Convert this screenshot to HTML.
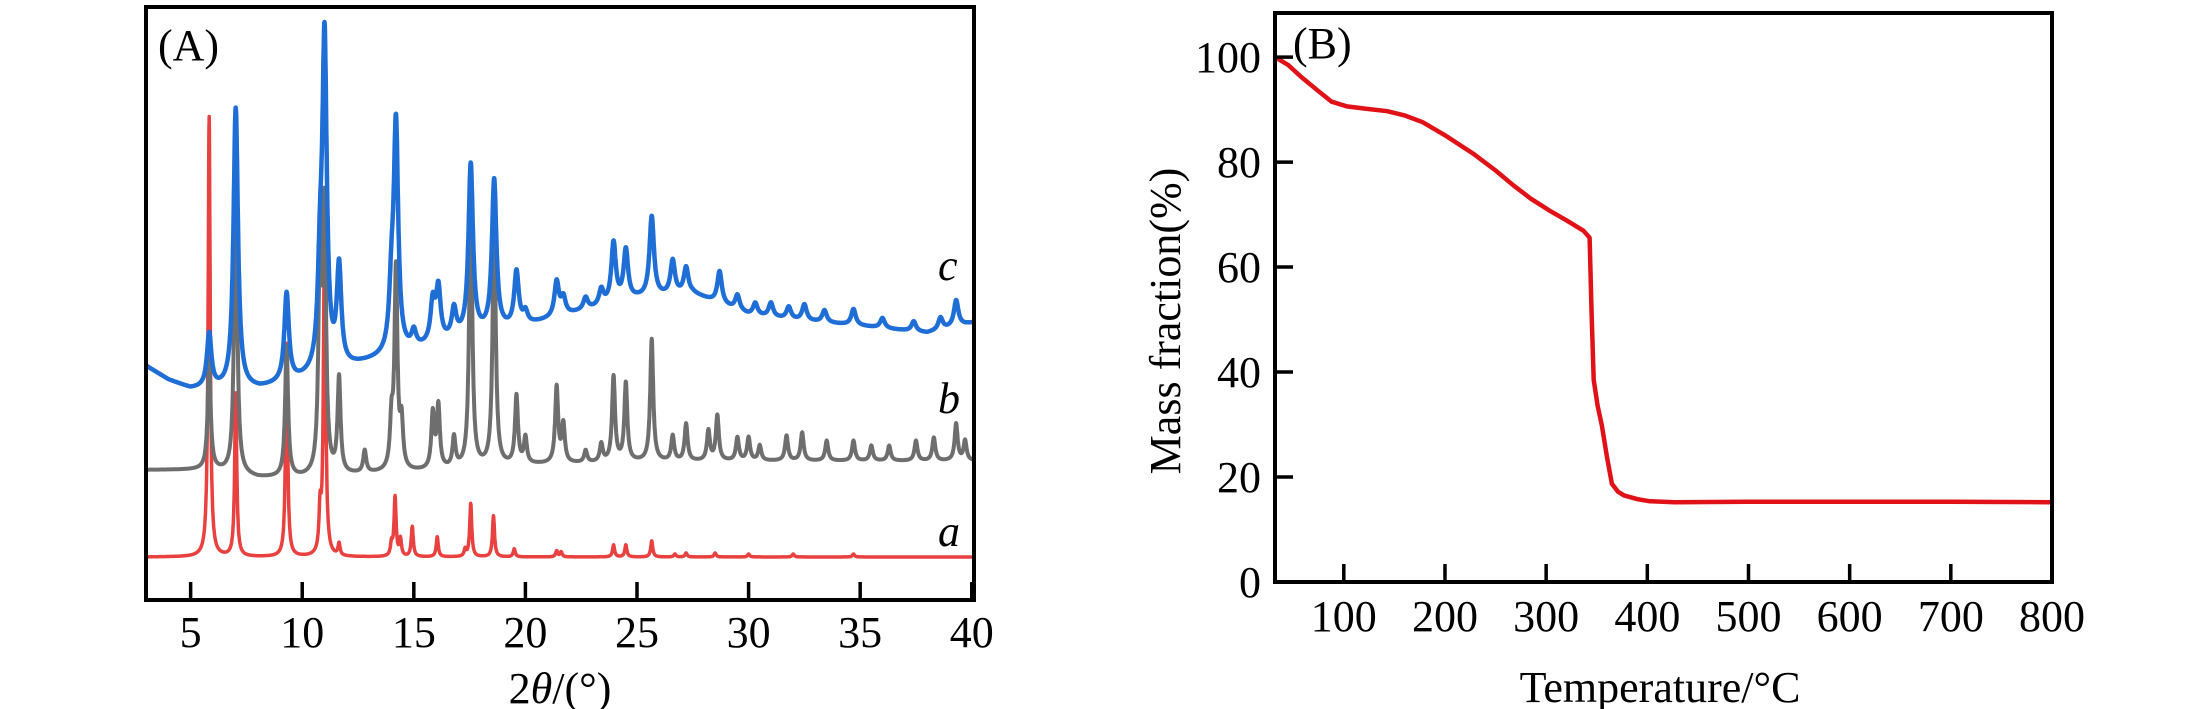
<!DOCTYPE html>
<html><head><meta charset="utf-8"><style>
html,body{margin:0;padding:0;background:#fff;}
svg{display:block;font-family:"Liberation Serif",serif;}
</style></head><body>
<svg id="fig" width="2205" height="709" viewBox="0 0 2205 709" xmlns="http://www.w3.org/2000/svg">
<g id="pa"></g>
<g id="pb"></g>
</svg>
<script>
// ---------- Panel A data (XRD) ----------
const xrdTicks = [5,10,15,20,25,30,35,40];
const redBaseX = [3,40];
const redBaseV = [43,43];
const redPos = [5.83,7.02,9.3,10.8,11.0,11.65,14.0,14.16,14.4,14.93,16.05,17.3,17.55,18.57,19.5,21.4,21.6,23.95,24.5,25.66,26.7,27.2,28.5,30,32,34.7];
const redHt  = [440,163,213,41,347,12,12,59,17,30,20,7,53,41,8,6,5,12,12,16,3,4,4,3,3,3];
const greyBaseX = [3,6,8,10,13,15,20,25,30,40];
const greyBaseV = [130,130,122,122,126,128,135,138,139,139];
const greyPos = [5.83,7.02,9.3,10.8,11.0,11.65,12.8,14.0,14.2,14.45,15.85,16.1,16.8,17.55,18.6,19.6,20.0,21.4,21.7,22.7,23.4,23.95,24.5,25.66,26.6,27.2,28.2,28.6,29.5,30.0,30.5,31.7,32.4,33.5,34.7,35.5,36.3,37.5,38.3,39.3,39.7];
const greyHt  = [108,300,130,230,255,95,22,45,200,45,55,62,30,280,260,68,26,76,38,12,18,85,78,122,25,37,30,45,23,23,15,25,28,20,20,15,15,20,23,37,20];
const blueBaseX = [3,4,5,8.1,10,12.7,15,17,20,22.5,25,27.5,30,32,35,38,40];
const blueBaseV = [234,220,211,211,220,236,249,261,274,288,301,306,285,280,274,267,277];
const bluePos = [5.83,7.02,9.3,10.8,11.0,11.65,14.0,14.2,15.0,15.85,16.1,16.8,17.55,18.6,19.6,20.0,21.4,21.7,22.7,23.4,23.95,24.5,25.66,26.6,27.2,28.7,29.5,30.3,31.0,31.8,32.5,33.4,34.7,36.0,37.4,38.6,39.3];
const blueHt  = [54,280,88,85,325,98,55,225,16,40,52,28,170,150,54,12,35,17,12,16,60,50,80,34,26,32,15,12,14,12,16,12,16,10,10,12,26];

// ---------- Panel B data (TGA) ----------
const tgaT = [32,45,58,75,88,103,120,143,160,178,200,228,250,268,285,303,320,337,343,345,347,351,355,360,365,371,377,390,402,427,500,600,700,800];
const tgaM = [100,98.5,96.2,93.5,91.5,90.6,90.2,89.7,88.9,87.6,85.1,81.6,78.4,75.5,73.0,70.8,68.9,66.9,65.6,50.5,38.5,33.5,29.9,24,18.7,17.2,16.5,15.8,15.4,15.2,15.3,15.3,15.3,15.2];
const tgaXTicks = [100,200,300,400,500,600,700,800];
const tgaYTicks = [0,20,40,60,80,100];

const NS="http://www.w3.org/2000/svg";
function mk(parent,tag,attrs){const e=document.createElementNS(NS,tag);for(const k in attrs)e.setAttribute(k,attrs[k]);parent.appendChild(e);return e;}

// ---- Panel A ----
const A={x0:146,x1:974,y0:600,y1:7,xmin:3,xmax:40.1,vmax:593};
const ax=v=>A.x0+(v-A.xmin)/(A.xmax-A.xmin)*(A.x1-A.x0);
const ay=v=>A.y0-v/A.vmax*(A.y0-A.y1);
function interp(xs,vs,x){if(x<=xs[0])return vs[0];for(let i=1;i<xs.length;i++){if(x<=xs[i]){const t=(x-xs[i-1])/(xs[i]-xs[i-1]);return vs[i-1]+t*(vs[i]-vs[i-1]);}}return vs[vs.length-1];}
function pattern(bx,bv,pos,ht,w){let d="";for(let x=A.xmin;x<=A.xmax+1e-9;x+=0.01){let v=interp(bx,bv,x);for(let i=0;i<pos.length;i++){const dx=(x-pos[i])/w;v+=ht[i]/(1+dx*dx);}d+=(d?"L":"M")+ax(x).toFixed(1)+","+ay(v).toFixed(1);}return d;}
const pa=document.getElementById('pa');
const clipA=mk(pa,'clipPath',{id:'ca'});mk(clipA,'rect',{x:A.x0,y:A.y1,width:A.x1-A.x0,height:A.y0-A.y1});
const gA=mk(pa,'g',{'clip-path':'url(#ca)'});
const red=mk(gA,'path',{d:pattern(redBaseX,redBaseV,redPos,redHt,0.055),fill:'none',stroke:'#e8413f','stroke-width':3.5,'stroke-linejoin':'round'});


const grey=mk(gA,'path',{d:pattern(greyBaseX,greyBaseV,greyPos,greyHt,0.08),fill:'none',stroke:'#6e6e6e','stroke-width':4,'stroke-linejoin':'round'});


const blue=mk(gA,'path',{d:pattern(blueBaseX,blueBaseV,bluePos,blueHt,0.12),fill:'none',stroke:'#1f6ed6','stroke-width':4.5,'stroke-linejoin':'round'});


const frA=mk(pa,'rect',{x:A.x0,y:A.y1,width:A.x1-A.x0,height:A.y0-A.y1,fill:'none',stroke:'#000','stroke-width':4});


xrdTicks.forEach(t=>{
  const l=mk(pa,'line',{x1:ax(t),x2:ax(t),y1:A.y0,y2:A.y0-18,stroke:'#000','stroke-width':3.5});
  
  
  const tx=mk(pa,'text',{x:ax(t),y:647,'text-anchor':'middle','font-size':44});tx.textContent=t;
  
  
});
</script>
<script>
(function(){
const pa=document.getElementById('pa');
function t(parent,x,y,s,txt,name,extra){const e=document.createElementNS("http://www.w3.org/2000/svg","text");e.setAttribute('x',x);e.setAttribute('y',y);e.setAttribute('font-size',s);if(extra)for(const k in extra)e.setAttribute(k,extra[k]);e.innerHTML=txt;parent.appendChild(e);return e;}
t(pa,158,60,44,'(A)','panel-a-label');
t(pa,938,280,44,'c','curve-c-label',{'font-style':'italic'});
t(pa,938,413,44,'b','curve-b-label',{'font-style':'italic'});
t(pa,938,546,44,'a','curve-a-label',{'font-style':'italic'});
t(pa,560,703,44,'2<tspan font-style="italic">θ</tspan>/(°)','x-axis-title',{'text-anchor':'middle'});
})();
// ---- Panel B ----
const B={x0:1275,x1:2052,y0:582,y1:13,tmin:32,tmax:800,mmax:108.4};
const bx=v=>B.x0+(v-B.tmin)/(B.tmax-B.tmin)*(B.x1-B.x0);
const by=v=>B.y0-v/B.mmax*(B.y0-B.y1);
const pb=document.getElementById('pb');
const NS2="http://www.w3.org/2000/svg";
function mk2(tag,attrs){const e=document.createElementNS(NS2,tag);for(const k in attrs)e.setAttribute(k,attrs[k]);pb.appendChild(e);return e;}
let dB="";tgaT.forEach((T,i)=>{dB+=(i?"L":"M")+bx(T).toFixed(1)+","+by(tgaM[i]).toFixed(1);});
const tl=mk2('path',{d:dB,fill:'none',stroke:'#e01218','stroke-width':4.5,'stroke-linejoin':'round'});


const frB=mk2('rect',{x:B.x0,y:B.y1,width:B.x1-B.x0,height:B.y0-B.y1,fill:'none',stroke:'#000','stroke-width':4});


tgaXTicks.forEach(v=>{
  if(v<800){const l=mk2('line',{x1:bx(v),x2:bx(v),y1:B.y0,y2:B.y0-18,stroke:'#000','stroke-width':3.5});
  
  }
  const tx=mk2('text',{x:bx(v),y:631,'text-anchor':'middle','font-size':44});tx.textContent=v;
  
  
});
tgaYTicks.forEach(v=>{
  const l=mk2('line',{x1:B.x0,x2:B.x0+18,y1:by(v),y2:by(v),stroke:'#000','stroke-width':3.5});
  
  
  const tx=mk2('text',{x:1261,y:by(v)+15,'text-anchor':'end','font-size':44});tx.textContent=v;
  
  
});
const lb=mk2('text',{x:1293,y:58,'font-size':44});lb.textContent='(B)';


const xt=mk2('text',{x:1660,y:702,'text-anchor':'middle','font-size':44});xt.textContent='Temperature/°C';


const yt=mk2('text',{x:0,y:0,'text-anchor':'middle','font-size':44,transform:'translate(1180,321) rotate(-90)'});yt.textContent='Mass fraction(%)';


</script>
</body></html>
